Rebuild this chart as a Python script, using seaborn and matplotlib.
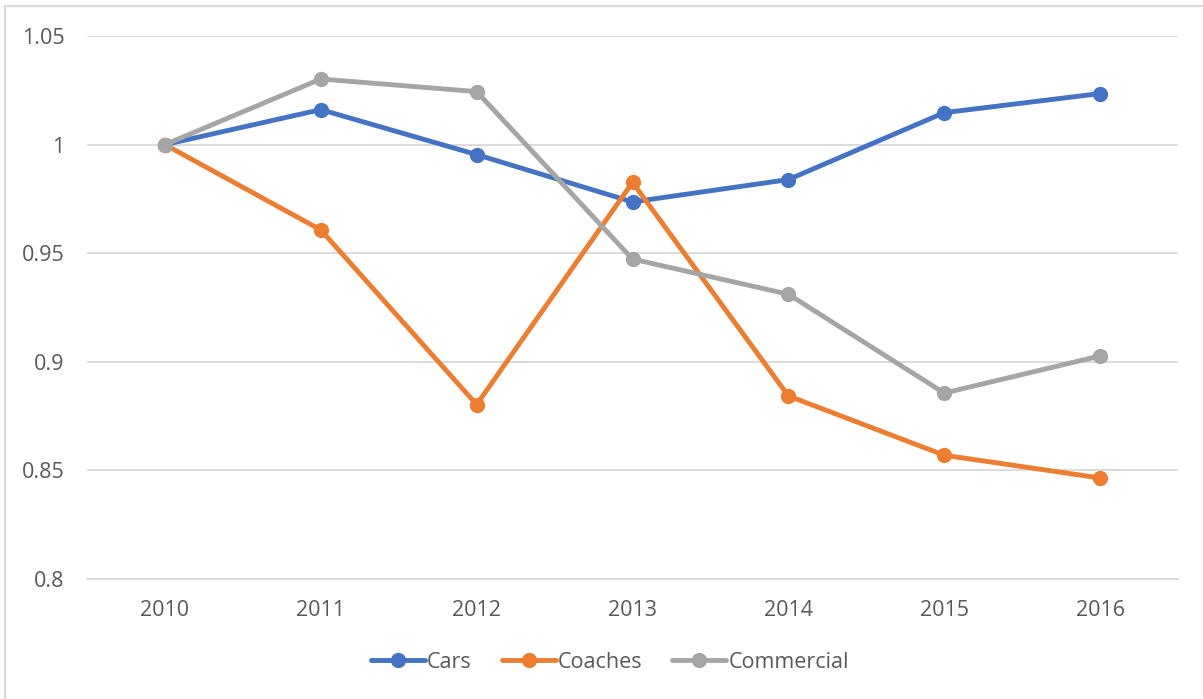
import pandas as pd
import matplotlib.pyplot as plt
import seaborn as sns
from matplotlib.patches import Rectangle

# ==========================================
# Data
# ==========================================
years = ['2010', '2011', '2012', '2013', '2014', '2015', '2016']
cars = [1.0, 1.0161, 0.9954, 0.9736, 0.9839, 1.0147, 1.0235]
coaches = [1.0, 0.9607, 0.8803, 0.9826, 0.8843, 0.8570, 0.8465]
commercial = [1.0, 1.0302, 1.0244, 0.9473, 0.9311, 0.8856, 0.9027]
series_names = ['Cars', 'Coaches', 'Commercial']
colors = ['#4472C4', '#ED7D31', '#A5A5A5']

df = pd.DataFrame({
    'year': years * 3,
    'value': cars + coaches + commercial,
    'series': [s for s in series_names for _ in years],
})

sns.set_theme(style='white')
plt.rcParams['font.family'] = ['Open Sans', 'DejaVu Sans']
text_color = '#595959'
grid_color = '#D9D9D9'

fig = plt.figure(figsize=(12.03, 6.99), dpi=100)
ax = fig.add_axes([87 / 1203, 1 - 579 / 699, 1091 / 1203, 543 / 699])

sns.lineplot(data=df, x='year', y='value', hue='series', hue_order=series_names,
             palette=colors, marker='o', markersize=11, markeredgewidth=0,
             linewidth=3.5, sort=False, ax=ax)

ax.set_xlim(-0.5, 6.5)
ax.set_ylim(0.8, 1.05)
ax.set_yticks([0.8, 0.85, 0.9, 0.95, 1.0, 1.05])
ax.set_yticklabels(['0.8', '0.85', '0.9', '0.95', '1', '1.05'])
ax.yaxis.grid(True, color=grid_color, linewidth=1.3)
ax.set_axisbelow(True)
for side in ['top', 'right', 'left']:
    ax.spines[side].set_visible(False)
ax.spines['bottom'].set_color(grid_color)
ax.spines['bottom'].set_linewidth(1.3)
ax.tick_params(axis='both', length=0, labelsize=15.5, labelcolor=text_color)
ax.tick_params(axis='y', pad=16)
ax.tick_params(axis='x', pad=15)
ax.set_xlabel('')
ax.set_ylabel('')

handles, labels = ax.get_legend_handles_labels()
ax.get_legend().remove()
leg = fig.legend(handles, labels, loc='center', bbox_to_anchor=(0.507, 1 - 662 / 699),
                 ncol=3, frameon=False, fontsize=15.5, handlelength=2.5,
                 handletextpad=0.1, columnspacing=1.4)
for t in leg.get_texts():
    t.set_color(text_color)

# chart-area border, as in the spreadsheet export
fig.patches.append(Rectangle((5 / 1203, -0.05), 1.2, 1 - 6 / 699 + 0.05,
                             transform=fig.transFigure, fill=False,
                             edgecolor=grid_color, linewidth=1.5))

plt.savefig('out.png', dpi=100)
